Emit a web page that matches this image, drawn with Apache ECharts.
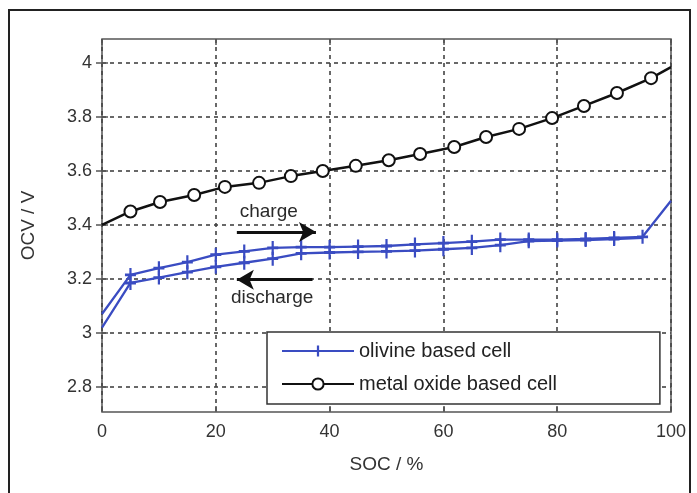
<!DOCTYPE html>
<html><head><meta charset="utf-8">
<script src="https://cdn.jsdelivr.net/npm/echarts@6/dist/echarts.min.js"></script>
<style>html,body{margin:0;padding:0;background:#fff}#c{width:697px;height:493px}</style>
</head><body><div id="c"></div>
<script>
// Metal oxide based cell (black, circles)
const socOxide = [0, 5, 10.2, 16.2, 21.6, 27.6, 33.2, 38.8, 44.6, 50.4, 55.9, 61.9, 67.5, 73.3, 79.1, 84.7, 90.5, 96.5, 100];
const ocvOxide = [3.40, 3.45, 3.485, 3.511, 3.541, 3.556, 3.581, 3.600, 3.619, 3.64, 3.663, 3.689, 3.726, 3.756, 3.796, 3.841, 3.889, 3.944, 3.985];
// Olivine based cell, charge branch (upper)
const socCharge = [0, 5, 10, 15, 20, 25, 30, 35, 40, 45, 50, 55, 60, 65, 70, 75, 80, 85, 90, 95, 100];
const ocvCharge = [3.07, 3.215, 3.24, 3.262, 3.29, 3.302, 3.315, 3.318, 3.318, 3.32, 3.322, 3.328, 3.333, 3.338, 3.346, 3.346, 3.346, 3.348, 3.352, 3.356, 3.49];
// Olivine based cell, discharge branch (lower)
const socDischarge = [0, 5, 10, 15, 20, 25, 30, 35, 40, 45, 50, 55, 60, 65, 70, 75, 80, 85, 90, 95];
const ocvDischarge = [3.02, 3.185, 3.205, 3.225, 3.245, 3.26, 3.275, 3.295, 3.298, 3.30, 3.302, 3.305, 3.31, 3.315, 3.325, 3.34, 3.342, 3.344, 3.348, 3.352];
// Tick labels
const xTicks = [0, 20, 40, 60, 80, 100];
const yTicks = [2.8, 3, 3.2, 3.4, 3.6, 3.8, 4];
// Annotations
const arrowCharge = [[23.7, 3.374], [37.6, 3.374]];
const arrowDischarge = [[37.0, 3.197], [23.7, 3.197]];
const annoTexts = [{ text: 'charge', x: 29.3, y: 3.448 }, { text: 'discharge', x: 29.9, y: 3.13 }];
const legendNames = ['olivine based cell', 'metal oxide based cell'];

const FONT = 'Liberation Sans, Arial, Helvetica, sans-serif';
const BLUE = '#3a4cc2';
const plusPath = 'path://M4,0h2v4h4v2h-4v4h-2v-4h-4v-2h4z';

function pts(xs, ys, sym) {
  return xs.map((x, i) => ({
    value: [x, ys[i]],
    symbol: (i === 0 || i === xs.length - 1) ? 'none' : sym
  }));
}

const chart = echarts.init(document.getElementById('c'), null, { renderer: 'canvas' });
const gridLine = { show: true, lineStyle: { color: '#444', width: 1.6, type: [4, 4] } };

chart.setOption({
  animation: false,
  backgroundColor: '#fff',
  textStyle: { fontFamily: FONT },
  graphic: [{
    type: 'rect', shape: { x: 9, y: 10, width: 681, height: 520 },
    style: { fill: 'none', stroke: '#222', lineWidth: 2 }, z: 100
  }],
  grid: { left: 102, top: 39, right: 26, bottom: 81, show: true, borderColor: '#555', borderWidth: 1.5, backgroundColor: '#fff' },
  legend: {
    data: legendNames,
    orient: 'vertical', left: 267, top: 332,
    padding: [9, 103, 10, 14], itemGap: 13,
    itemWidth: 72, itemHeight: 14,
    borderColor: '#333', borderWidth: 1.5, backgroundColor: '#fff',
    textStyle: { fontSize: 20, color: '#222', fontFamily: FONT }
  },
  xAxis: [{
    type: 'value', min: 0, max: 100, interval: 20,
    name: 'SOC / %', nameLocation: 'middle', nameGap: 43,
    nameTextStyle: { fontSize: 19, color: '#333', fontFamily: FONT },
    axisLine: { show: false },
    axisTick: { show: true, inside: true, length: 6, lineStyle: { color: '#555', width: 1.5 } },
    axisLabel: { fontSize: 18, color: '#333', margin: 11, fontFamily: FONT },
    splitLine: gridLine
  }, {
    type: 'value', min: 0, max: 100, interval: 20, position: 'top',
    axisLine: { show: false }, axisLabel: { show: false }, splitLine: { show: false },
    axisTick: { show: true, inside: true, length: 6, lineStyle: { color: '#555', width: 1.5 } }
  }],
  yAxis: [{
    type: 'value', min: 2.707, max: 4.089,
    name: 'OCV / V', nameLocation: 'middle', nameGap: 64, nameRotate: 90,
    nameTextStyle: { fontSize: 19, color: '#333', fontFamily: FONT },
    axisLine: { show: false },
    axisTick: { show: true, inside: true, length: 6, customValues: yTicks, lineStyle: { color: '#555', width: 1.5 } },
    axisLabel: { fontSize: 18, color: '#333', margin: 10, customValues: yTicks, fontFamily: FONT,
      formatter: v => String(+(+v).toFixed(1)) },
    splitLine: gridLine
  }, {
    type: 'value', min: 2.707, max: 4.089, position: 'right',
    axisLine: { show: false }, axisLabel: { show: false }, splitLine: { show: false },
    axisTick: { show: true, inside: true, length: 6, customValues: yTicks, lineStyle: { color: '#555', width: 1.5 } }
  }],
  series: [{
    name: legendNames[0], type: 'line',
    data: pts(socCharge, ocvCharge, plusPath),
    symbol: plusPath, symbolSize: [11, 14], showSymbol: true,
    lineStyle: { color: BLUE, width: 2.3 }, itemStyle: { color: BLUE }, z: 3
  }, {
    name: legendNames[0], type: 'line',
    data: pts(socDischarge, ocvDischarge, plusPath),
    symbol: plusPath, symbolSize: [11, 14], showSymbol: true,
    lineStyle: { color: BLUE, width: 2.3 }, itemStyle: { color: BLUE }, z: 3
  }, {
    name: legendNames[1], type: 'line',
    data: pts(socOxide, ocvOxide, 'emptyCircle'),
    symbol: 'emptyCircle', symbolSize: 12, showSymbol: true,
    lineStyle: { color: '#111', width: 2.5 },
    itemStyle: { color: '#111', borderColor: '#111', borderWidth: 2.3 }, z: 4
  }, {
    name: 'annotations', type: 'line', data: [], silent: true,
    markLine: {
      silent: true, symbol: ['none', 'arrow'], symbolSize: [15, 17],
      label: { show: false },
      lineStyle: { color: '#111', width: 3, type: 'solid' },
      data: [
        [{ coord: arrowCharge[0] }, { coord: arrowCharge[1] }],
        [{ coord: arrowDischarge[0] }, { coord: arrowDischarge[1] }]
      ]
    },
    markPoint: {
      silent: true, symbol: 'circle', symbolSize: 0,
      label: { show: true, position: 'inside', color: '#2a2a2a', fontSize: 19, fontFamily: FONT, formatter: p => p.name },
      data: annoTexts.map(a => ({ name: a.text, coord: [a.x, a.y] }))
    }
  }]
});
</script></body></html>
